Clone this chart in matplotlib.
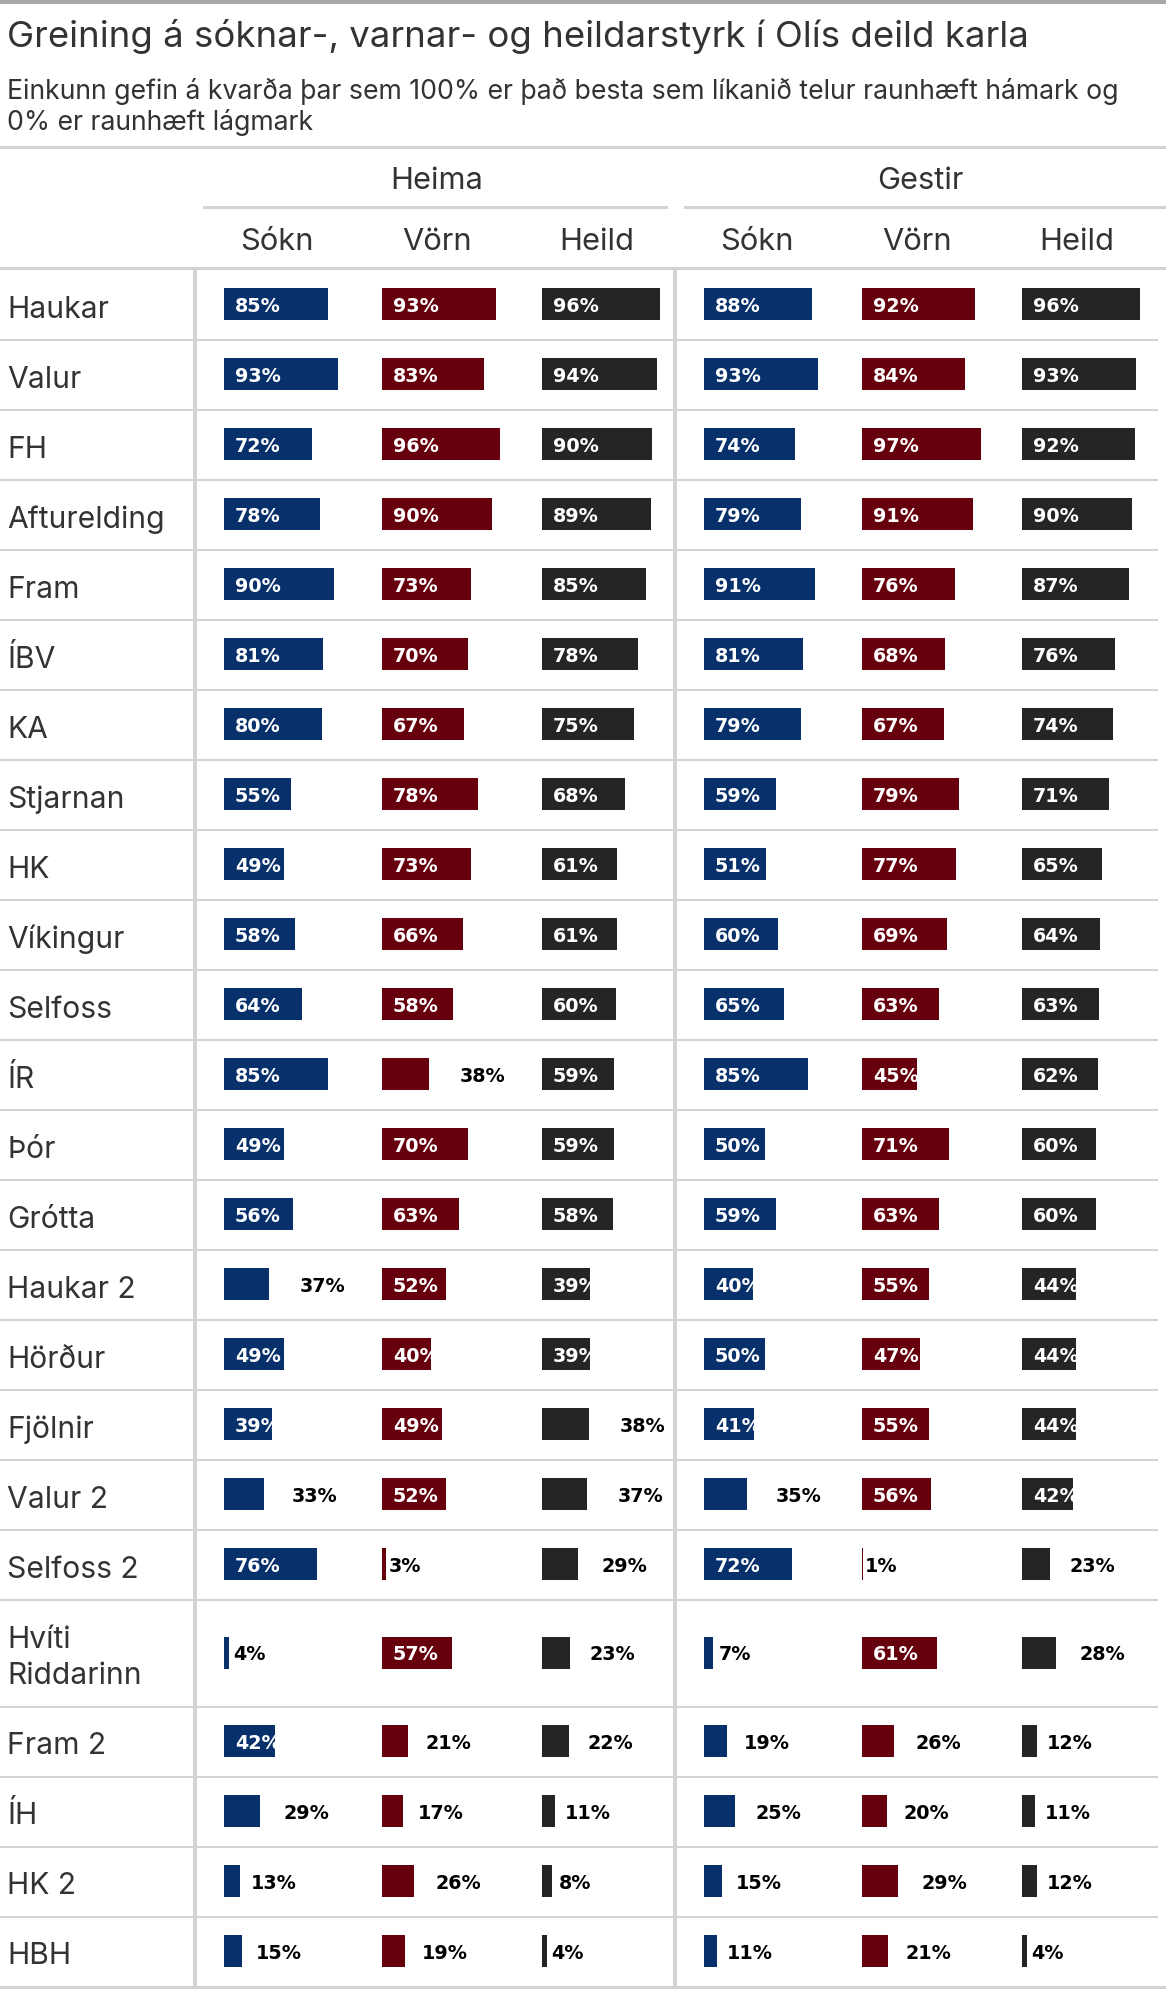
import textwrap
import matplotlib
matplotlib.use("Agg")
import matplotlib.pyplot as plt
from matplotlib.patches import Rectangle

# gögn (lesin af myndinni)
teams = ["Haukar", "Valur", "FH", "Afturelding", "Fram", "ÍBV", "KA", "Stjarnan",
         "HK", "Víkingur", "Selfoss", "ÍR", "Þór", "Grótta", "Haukar 2", "Hörður",
         "Fjölnir", "Valur 2", "Selfoss 2", "Hvíti Riddarinn", "Fram 2", "ÍH",
         "HK 2", "HBH"]

heima_sokn  = [85, 93, 72, 78, 90, 81, 80, 55, 49, 58, 64, 85, 49, 56, 37, 49, 39, 33, 76, 4, 42, 29, 13, 15]
heima_vorn  = [93, 83, 96, 90, 73, 70, 67, 78, 73, 66, 58, 38, 70, 63, 52, 40, 49, 52, 3, 57, 21, 17, 26, 19]
heima_heild = [96, 94, 90, 89, 85, 78, 75, 68, 61, 61, 60, 59, 59, 58, 39, 39, 38, 37, 29, 23, 22, 11, 8, 4]
gestir_sokn  = [88, 93, 74, 79, 91, 81, 79, 59, 51, 60, 65, 85, 50, 59, 40, 50, 41, 35, 72, 7, 19, 25, 15, 11]
gestir_vorn  = [92, 84, 97, 91, 76, 68, 67, 79, 77, 69, 63, 45, 71, 63, 55, 47, 55, 56, 1, 61, 26, 20, 29, 21]
gestir_heild = [96, 93, 92, 90, 87, 76, 74, 71, 65, 64, 63, 62, 60, 60, 44, 44, 44, 42, 23, 28, 12, 11, 12, 4]

groups = ["Heima", "Gestir"]
col_names = ["Sókn", "Vörn", "Heild"]
title = "Greining á sóknar-, varnar- og heildarstyrk í Olís deild karla"
subtitle = ["Einkunn gefin á kvarða þar sem 100% er það besta sem líkanið telur raunhæft hámark og",
            "0% er raunhæft lágmark"]

# útlit
W, H = 1166, 1990
colors = ["#08306b", "#67000d", "#252525"]
grid = "#d3d3d3"
txt = "#333333"
px_per_pct = 1.225
bar_h = 32
cutoff = 39

plt.rcParams["font.family"] = ["Inter", "DejaVu Sans"]

fig = plt.figure(figsize=(W / 100, H / 100), dpi=100)
ax = fig.add_axes([0, 0, 1, 1])
ax.set_xlim(0, W)
ax.set_ylim(H, 0)
ax.axis("off")


def line(x0, x1, y0, y1, c=grid):
    ax.add_patch(Rectangle((x0, y0), x1 - x0, y1 - y0, color=c, lw=0))


# haus
line(0, W, 0, 5, "#a8a8a8")
ax.text(7, 47, title, fontsize=26.3, color=txt, va="baseline")
ax.text(7, 99, subtitle[0], fontsize=19.2, color=txt, va="baseline")
ax.text(7, 130, subtitle[1], fontsize=19.2, color=txt, va="baseline")
line(0, W, 147, 149.5)

col_left = 197
col_w = 160
group_centers = [437, 920]
group_lines = [(203, 668), (684, W)]
bar_starts = [[224, 382, 542], [704, 862, 1022]]

for g in range(2):
    ax.text(group_centers[g], 189, groups[g], fontsize=22.2, color=txt,
            ha="center", va="baseline")
    line(group_lines[g][0], group_lines[g][1], 207, 209.5)
    for c in range(3):
        xc = col_left + (3 * g + c + 0.5) * col_w
        ax.text(xc, 250, col_names[c], fontsize=22.2, color=txt,
                ha="center", va="baseline")
line(0, W, 268, 271)

# raðir
series = [[heima_sokn, heima_vorn, heima_heild], [gestir_sokn, gestir_vorn, gestir_heild]]
labels = [textwrap.wrap(t, 12) for t in teams]
heights = [70 + 37 * (len(l) - 1) for l in labels]
tops = [271]
for h in heights[:-1]:
    tops.append(tops[-1] + h)
centers = [t + h / 2 - 1 for t, h in zip(tops, heights)]

for i, name_lines in enumerate(labels):
    n = len(name_lines)
    for k, s in enumerate(name_lines):
        ax.text(7, centers[i] + 12.5 - 17.5 * (n - 1) + 35 * k, s, fontsize=21.6,
                color=txt, va="baseline")
    line(0, 1158, tops[i] + heights[i] - 1, tops[i] + heights[i] + 1)

for g in range(2):
    for c in range(3):
        vals = series[g][c]
        x0 = bar_starts[g][c]
        bars = ax.barh(centers, [v * px_per_pct for v in vals], left=x0,
                       height=bar_h, color=colors[c], lw=0)
        for v, y, p in zip(vals, centers, bars.patches):
            w = v * px_per_pct
            if v >= cutoff:
                t = ax.text(x0 + 11, y + 7, f"{v}%", fontsize=13.8, color="white",
                            family="DejaVu Sans", weight="bold", va="baseline")
                t.set_clip_path(p)
            else:
                ax.text(x0 + 1.65 * w + 1, y + 7, f"{v}%", fontsize=13.8, color="black",
                        family="DejaVu Sans", weight="bold", va="baseline")

bottom = tops[-1] + heights[-1]
line(193, 197, 271, bottom)
line(673, 677, 271, bottom)
line(0, W, bottom - 1, H)

fig.savefig("out.png", dpi=100)
